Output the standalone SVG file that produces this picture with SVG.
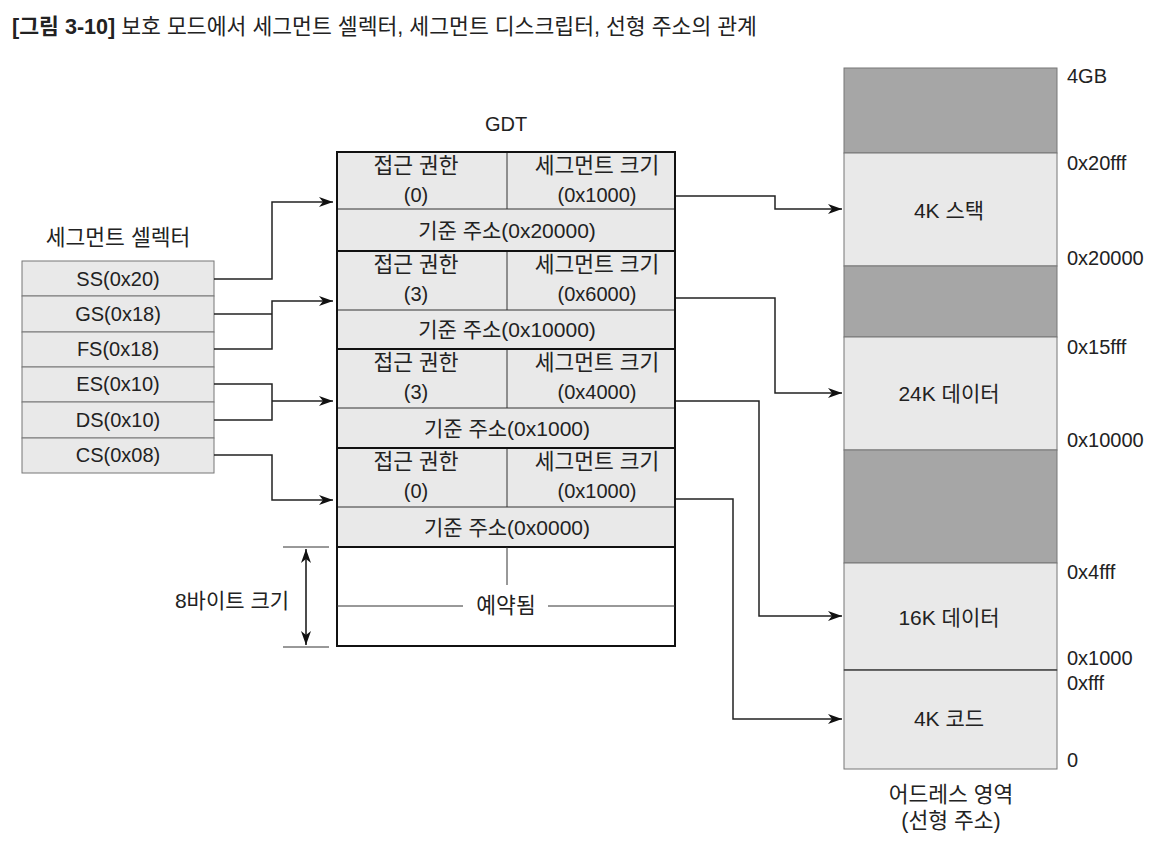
<svg xmlns="http://www.w3.org/2000/svg" width="1170" height="854" viewBox="0 0 1170 854">
<style>
text{font-family:"Liberation Sans","Noto Sans CJK KR",sans-serif;font-size:21px;fill:#222;dominant-baseline:central}
.n{font-size:20px}
.k{font-size:21.5px}
.c{text-anchor:middle}
.l{text-anchor:start}
.title{font-size:21.5px}
.b{font-weight:bold}
.lg{fill:#e9e9e9}
.dk{fill:#a6a6a6}
.cell{stroke:#777;stroke-width:1}
.conn{fill:none;stroke:#222;stroke-width:1.5}
.thin{stroke:#333;stroke-width:1}
.thick{stroke:#111;stroke-width:2}
</style>
<defs>
<marker id="arr" viewBox="0 0 14 10" refX="14" refY="5" markerWidth="14" markerHeight="10" markerUnits="userSpaceOnUse" orient="auto-start-reverse">
<path d="M0,0 L14,5 L0,10 L4,5 z" fill="#111"/>
</marker>
</defs>
<rect width="1170" height="854" fill="#fff"/>

<g id="title">
<text class="l title" x="12" y="27" textLength="745" lengthAdjust="spacingAndGlyphs"><tspan class="b">[그림 3-10]</tspan> 보호 모드에서 세그먼트 셀렉터, 세그먼트 디스크립터, 선형 주소의 관계</text>
</g>

<g id="selector">
<text class="c k" x="118" y="238">세그먼트 셀렉터</text>
<rect class="lg cell" x="22" y="261" width="192" height="35"/>
<rect class="lg cell" x="22" y="296" width="192" height="36"/>
<rect class="lg cell" x="22" y="332" width="192" height="35"/>
<rect class="lg cell" x="22" y="367" width="192" height="35"/>
<rect class="lg cell" x="22" y="402" width="192" height="36"/>
<rect class="lg cell" x="22" y="438" width="192" height="35"/>
<text class="c n" x="118" y="279">SS(0x20)</text>
<text class="c n" x="118" y="314">GS(0x18)</text>
<text class="c n" x="118" y="349">FS(0x18)</text>
<text class="c n" x="118" y="384">ES(0x10)</text>
<text class="c n" x="118" y="420">DS(0x10)</text>
<text class="c n" x="118" y="455">CS(0x08)</text>
</g>

<g id="gdt">
<text class="c n" x="506" y="124">GDT</text>
<rect class="lg" x="337" y="152" width="338" height="395"/>
<rect fill="#fff" x="337" y="547" width="338" height="99"/>
<line class="thin" x1="337" y1="209" x2="675" y2="209"/>
<line class="thin" x1="337" y1="310" x2="675" y2="310"/>
<line class="thin" x1="337" y1="408" x2="675" y2="408"/>
<line class="thin" x1="337" y1="507" x2="675" y2="507"/>
<line class="thin" x1="507" y1="152" x2="507" y2="209"/>
<line class="thin" x1="507" y1="251" x2="507" y2="310"/>
<line class="thin" x1="507" y1="349" x2="507" y2="408"/>
<line class="thin" x1="507" y1="448" x2="507" y2="507"/>
<line class="thick" x1="337" y1="251" x2="675" y2="251"/>
<line class="thick" x1="337" y1="349" x2="675" y2="349"/>
<line class="thick" x1="337" y1="448" x2="675" y2="448"/>
<line class="thick" x1="337" y1="547" x2="675" y2="547" stroke-width="2.5"/>
<rect x="337" y="152" width="338" height="494" fill="none" stroke="#111" stroke-width="2"/>
<line class="thin" x1="507" y1="547" x2="507" y2="585"/>
<line class="thin" x1="337" y1="606" x2="463" y2="606"/>
<line class="thin" x1="548" y1="606" x2="675" y2="606"/>
<text class="c k" x="506" y="606">예약됨</text>

<text class="c k" x="416" y="166">접근 권한</text>
<text class="c n" x="416" y="195">(0)</text>
<text class="c k" x="597" y="166">세그먼트 크기</text>
<text class="c n" x="597" y="195">(0x1000)</text>
<text class="c" x="507" y="230">기준 주소(0x20000)</text>

<text class="c k" x="416" y="265">접근 권한</text>
<text class="c n" x="416" y="294">(3)</text>
<text class="c k" x="597" y="265">세그먼트 크기</text>
<text class="c n" x="597" y="294">(0x6000)</text>
<text class="c" x="507" y="329">기준 주소(0x10000)</text>

<text class="c k" x="416" y="363">접근 권한</text>
<text class="c n" x="416" y="392">(3)</text>
<text class="c k" x="597" y="363">세그먼트 크기</text>
<text class="c n" x="597" y="392">(0x4000)</text>
<text class="c" x="507" y="428">기준 주소(0x1000)</text>

<text class="c k" x="416" y="462">접근 권한</text>
<text class="c n" x="416" y="491">(0)</text>
<text class="c k" x="597" y="462">세그먼트 크기</text>
<text class="c n" x="597" y="491">(0x1000)</text>
<text class="c" x="507" y="527">기준 주소(0x0000)</text>
</g>

<g id="size-note">
<line class="thin" x1="283" y1="547" x2="329" y2="547"/>
<line class="thin" x1="283" y1="647" x2="329" y2="647"/>
<line x1="306" y1="549" x2="306" y2="645" stroke="#111" stroke-width="1.5" marker-start="url(#arr)" marker-end="url(#arr)"/>
<text class="c" x="232" y="600">8바이트 크기</text>
</g>

<g id="memory">
<rect class="dk cell" x="844" y="68" width="213" height="85"/>
<rect class="lg cell" x="844" y="153" width="213" height="113"/>
<rect class="dk cell" x="844" y="266" width="213" height="71"/>
<rect class="lg cell" x="844" y="337" width="213" height="113"/>
<rect class="dk cell" x="844" y="450" width="213" height="113"/>
<rect class="lg cell" x="844" y="563" width="213" height="107"/>
<rect class="lg cell" x="844" y="670" width="213" height="99"/>
<line x1="844" y1="670" x2="1057" y2="670" stroke="#222" stroke-width="1.2"/>
<text class="c" x="949" y="210">4K 스택</text>
<text class="c" x="949" y="393">24K 데이터</text>
<text class="c" x="949" y="617">16K 데이터</text>
<text class="c" x="949" y="718">4K 코드</text>
<text class="l n" x="1067" y="76">4GB</text>
<text class="l n" x="1067" y="163">0x20fff</text>
<text class="l n" x="1067" y="258">0x20000</text>
<text class="l n" x="1067" y="347">0x15fff</text>
<text class="l n" x="1067" y="440">0x10000</text>
<text class="l n" x="1067" y="572">0x4fff</text>
<text class="l n" x="1067" y="658">0x1000</text>
<text class="l n" x="1067" y="683">0xfff</text>
<text class="l n" x="1067" y="760">0</text>
<text class="c k" x="951" y="795">어드레스 영역</text>
<text class="c k" x="951" y="821">(선형 주소)</text>
</g>

<g id="connectors">
<polyline class="conn" points="214,279 272,279 272,202 333,202" marker-end="url(#arr)"/>
<polyline class="conn" points="214,314 272,314"/>
<polyline class="conn" points="214,349 272,349 272,301 333,301" marker-end="url(#arr)"/>
<polyline class="conn" points="214,384 272,384 272,420 214,420"/>
<polyline class="conn" points="272,401 333,401" marker-end="url(#arr)"/>
<polyline class="conn" points="214,455 272,455 272,500 333,500" marker-end="url(#arr)"/>
<polyline class="conn" points="676,196 775,196 775,209 842,209" marker-end="url(#arr)"/>
<polyline class="conn" points="676,298 775,298 775,393 842,393" marker-end="url(#arr)"/>
<polyline class="conn" points="676,401 759,401 759,616 842,616" marker-end="url(#arr)"/>
<polyline class="conn" points="676,499 733,499 733,719 842,719" marker-end="url(#arr)"/>
</g>
</svg>
